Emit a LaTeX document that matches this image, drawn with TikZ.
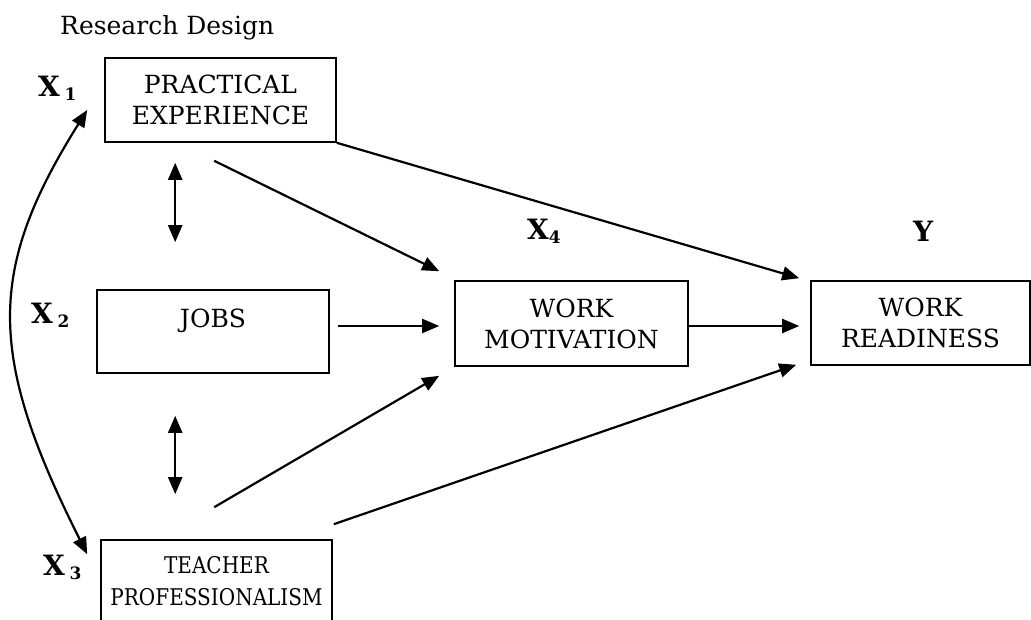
\documentclass[tikz,border=0pt]{standalone}
\usepackage{fontspec}
\setmainfont{DejaVu Serif}
\usetikzlibrary{arrows.meta,calc}
\newcommand\subnum[1]{\raisebox{-4pt}{\fontsize{17}{17}\selectfont #1}}
\begin{document}
\begin{tikzpicture}[x=1pt,y=-1pt,
  box/.style={draw, line width=1.6pt, inner sep=0pt, align=center, font=\fontsize{25}{31}\selectfont},
  boxtext/.style={inner sep=0pt, align=center, font=\fontsize{25}{31}\selectfont},
  smalltext/.style={inner sep=0pt, align=center, font=\fontsize{23}{32}\selectfont},
  tip/.tip={Triangle[length=17pt,width=14pt]},
  conn/.style={line width=2.2pt, -tip},
  twoway/.style={line width=2.2pt, tip-tip},
  lbl/.style={font=\bfseries\fontsize{28}{28}\selectfont, inner sep=0pt, anchor=base west},
]
\useasboundingbox (0,0) rectangle (1031,620);
\clip (0,0) rectangle (1031,620);

\node[font=\fontsize{25}{25}\selectfont, inner sep=0pt, anchor=base west] (title) at (60,35) {Research Design};

% boxes
\node[box, minimum width=231pt, minimum height=84pt] (pe) at (220.5,100) {PRACTICAL\\EXPERIENCE};
\node[box, minimum width=232pt, minimum height=83pt] (jobs) at (213,331.5) {};
\node[boxtext, anchor=base] (jobst) at (213,327) {JOBS};
\node[box, minimum width=231pt, minimum height=82pt] (tp) at (216.5,581) {};
\node[smalltext] (tpt) at (216.5,583) {\scalebox{0.87}[1]{\begin{tabular}{@{}c@{}}TEACHER\\PROFESSIONALISM\end{tabular}}};
\node[box, minimum width=233pt, minimum height=85pt] (wm) at (571.5,323.5) {WORK\\MOTIVATION};
\node[box, minimum width=219pt, minimum height=84pt] (wr) at (920.5,323) {WORK\\READINESS};

% labels
\node[lbl] (x1) at (38,97) {X\,\subnum{1}};
\node[lbl] (x2) at (31,324) {X\,\subnum{2}};
\node[lbl] (x3) at (43,575) {X\,\subnum{3}};
\node[lbl] (x4) at (527,240) {X\subnum{4}};
\node[lbl] (y) at (913,242) {Y};

% connectors
\draw[conn] (pe.south east) -- ($(wr.north west)+(-11,-2)$);
\draw[conn] ($(pe.south west)+(110,18)$) -- ($(wm.north west)+(-15,-9)$);
\draw[conn] ($(jobs.east)+(8,-5.5)$) -- ($(wm.west)+(-15,2.5)$);
\draw[conn] ($(tp.north west)+(114,-32)$) -- ($(wm.south west)+(-15,9)$);
\draw[conn] ($(tp.north east)+(1,-15)$) -- ($(wr.south west)+(-14,-1)$);
\draw[conn] (wm.east |- 0,326) -- ($(wr.west)+(-11,3)$);
\draw[twoway] ($(pe.south west)+(71,20)$) -- ($(jobs.north west)+(79,-47)$);
\draw[twoway] ($(jobs.south west)+(79,42)$) -- ($(tp.north west)+(75,-45)$);
\draw[twoway] ($(pe.west)+(-17,10)$) .. controls (-13,270) and (-13,355) .. ($(tp.north west)+(-13,15)$);
\end{tikzpicture}
\end{document}
